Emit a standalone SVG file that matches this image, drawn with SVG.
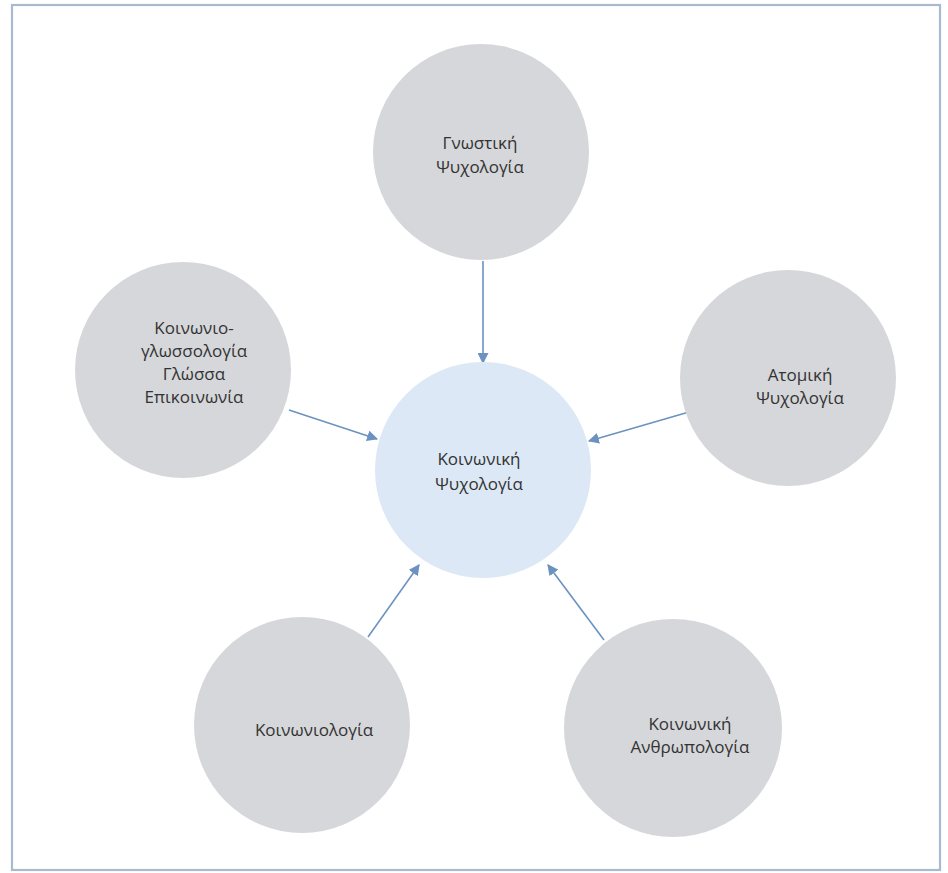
<svg xmlns="http://www.w3.org/2000/svg" width="948" height="873" viewBox="0 0 948 873">
<defs>
<style>
.frame{fill:#ffffff;stroke:#a7bad0;stroke-width:2.2}
.node{fill:#d5d7da}
.core{fill:#dce8f5}
.lbl{font-family:"Open Sans","DejaVu Sans",sans-serif;font-size:17px;fill:#333333;text-anchor:middle}
.edge{stroke:#6c92c0;stroke-width:1.6;fill:none;marker-end:url(#ah)}
</style>
<marker id="ah" viewBox="0 0 10 10" refX="9" refY="5" markerWidth="11" markerHeight="11" markerUnits="userSpaceOnUse" orient="auto">
<path d="M0,0 L10,5 L0,10 z" fill="#6c92c0"/>
</marker>
</defs>
<rect class="frame" x="12" y="5" width="928" height="865"/>
<g id="connectors">
<line class="edge" x1="483" y1="261" x2="483" y2="363"/>
<line class="edge" x1="289" y1="410" x2="377" y2="439"/>
<line class="edge" x1="689" y1="412" x2="589" y2="441"/>
<line class="edge" x1="368" y1="637" x2="419" y2="565"/>
<line class="edge" x1="604" y1="640" x2="548" y2="565"/>
</g>
<g id="n-gnostiki">
<circle class="node" cx="481" cy="152" r="108"/>
<text class="lbl" x="480" y="149">Γνωστική</text>
<text class="lbl" x="480" y="173">Ψυχολογία</text>
</g>
<g id="n-koinoniki">
<circle class="core" cx="483" cy="470" r="108"/>
<text class="lbl" x="479" y="465">Κοινωνική</text>
<text class="lbl" x="479" y="490">Ψυχολογία</text>
</g>
<g id="n-glossa">
<circle class="node" cx="183" cy="370" r="108"/>
<text class="lbl" x="194" y="334">Κοινωνιο-</text>
<text class="lbl" x="194" y="357">γλωσσολογία</text>
<text class="lbl" x="194" y="380">Γλώσσα</text>
<text class="lbl" x="194" y="403">Επικοινωνία</text>
</g>
<g id="n-atomiki">
<circle class="node" cx="788" cy="378" r="108"/>
<text class="lbl" x="800" y="381">Ατομική</text>
<text class="lbl" x="800" y="404">Ψυχολογία</text>
</g>
<g id="n-koinoniologia">
<circle class="node" cx="302" cy="725" r="108"/>
<text class="lbl" x="314" y="736">Κοινωνιολογία</text>
</g>
<g id="n-anthropologia">
<circle class="node" cx="673" cy="728" r="109"/>
<text class="lbl" x="690" y="730">Κοινωνική</text>
<text class="lbl" x="690" y="753">Ανθρωπολογία</text>
</g>
</svg>
